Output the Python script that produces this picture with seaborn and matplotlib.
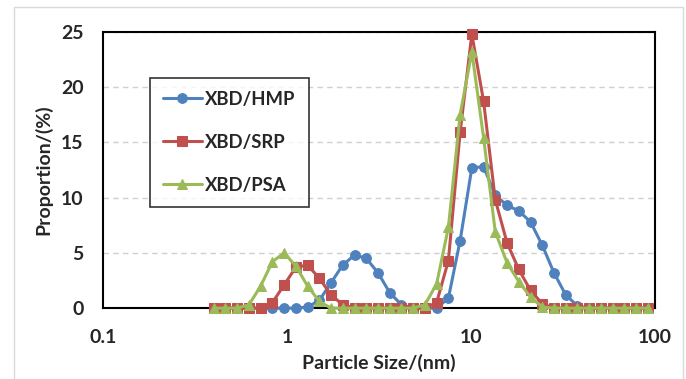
import matplotlib
matplotlib.use("Agg")
import matplotlib.pyplot as plt
import numpy as np
import pandas as pd
import seaborn as sns
from matplotlib.patches import Rectangle

# particle size bins (nm)
sizes = [0.4, 0.4632, 0.5365, 0.6213, 0.7195, 0.8332, 0.965, 1.117, 1.294, 1.499,
         1.736, 2.01, 2.328, 2.696, 3.122, 3.615, 4.187, 4.849, 5.615, 6.503,
         7.531, 8.721, 10.1, 11.7, 13.54, 15.69, 18.17, 21.04, 24.36, 28.21,
         32.67, 37.84, 43.82, 50.75, 58.77, 68.06, 78.82, 91.28]

hmp = [0, 0, 0, 0, 0, 0, 0, 0, 0.1, 0.7,
       2.3, 3.9, 4.8, 4.5, 3.2, 1.4, 0.3, 0, 0, 0,
       0.9, 6.1, 12.7, 12.8, 10.2, 9.3, 8.8, 7.8, 5.7, 3.2,
       1.2, 0.2, 0, 0, 0, 0, 0, 0]

srp = [0, 0, 0, 0, 0, 0.5, 2.1, 3.7, 3.9, 2.7,
       1.2, 0.3, 0, 0, 0, 0, 0, 0, 0, 0.5,
       4.3, 15.9, 24.8, 18.7, 9.8, 5.9, 3.5, 1.6, 0.4, 0,
       0, 0, 0, 0, 0, 0, 0, 0]

psa = [0, 0, 0, 0.3, 2.0, 4.2, 5.0, 3.8, 2.0, 0.6,
       0, 0, 0, 0, 0, 0, 0, 0, 0.3, 2.2,
       7.3, 17.5, 23.2, 15.4, 6.9, 4.1, 2.4, 1.0, 0.1, 0,
       0, 0, 0, 0, 0, 0, 0, 0]

labels = ["XBD/HMP", "XBD/SRP", "XBD/PSA"]
colors = ["#4F81BD", "#C0504D", "#9BBB59"]
markers = ["o", "s", "^"]

sns.set_style("white")
plt.rcParams["font.family"] = ["Lato", "DejaVu Sans"]
plt.rcParams["font.weight"] = "bold"

fig = plt.figure(figsize=(6.86, 3.79), dpi=100)
ax = fig.add_axes([0.150, 0.187, 0.805, 0.729])

for vals, lab, col, mk in zip([hmp, srp, psa], labels, colors, markers):
    df = pd.DataFrame({"size": sizes, "prop": vals})
    sns.lineplot(data=df, x="size", y="prop", ax=ax, color=col, marker=mk,
                 markersize=7, markeredgecolor=col, linewidth=2.2, label=lab,
                 clip_on=False, zorder=3)

ax.set_xscale("log")
ax.set_xlim(0.1, 100)
ax.set_ylim(0, 25)
ax.set_yticks([0, 5, 10, 15, 20, 25])
ax.set_xticks([0.1, 1, 10, 100])
ax.set_xticklabels(["0.1", "1", "10", "100"])
ax.minorticks_off()
ax.tick_params(axis="y", labelsize=14, length=0, pad=14)
ax.tick_params(axis="x", labelsize=14, length=0, pad=15)
for t in ax.get_xticklabels() + ax.get_yticklabels():
    t.set_fontweight("bold")

ax.yaxis.grid(True, color="#D0D0D0", linestyle=(0, (4, 3)), linewidth=1)
ax.set_axisbelow(True)
for s in ax.spines.values():
    s.set_color("black")
    s.set_linewidth(1.5)
    s.set_zorder(2)

ax.set_xlabel("Particle Size/(nm)", fontsize=14, fontweight="bold", labelpad=6)
ax.set_ylabel("Proportion/(%)", fontsize=14, fontweight="bold", labelpad=6)

leg = ax.legend(loc="upper left", bbox_to_anchor=(0.085, 0.833), frameon=True,
                fancybox=False, edgecolor="black", fontsize=13.3,
                labelspacing=1.4, borderpad=0.7, handlelength=2.1,
                handletextpad=0.2, borderaxespad=0)
leg.get_frame().set_linewidth(1.2)
for t in leg.get_texts():
    t.set_fontweight("bold")

fig.patches.append(Rectangle((14 / 686, -0.01), 669 / 686, 1 - 7 / 379 + 0.01,
                             transform=fig.transFigure, fill=False,
                             edgecolor="#D9D9D9", linewidth=1))

fig.savefig("out.png", dpi=100)
